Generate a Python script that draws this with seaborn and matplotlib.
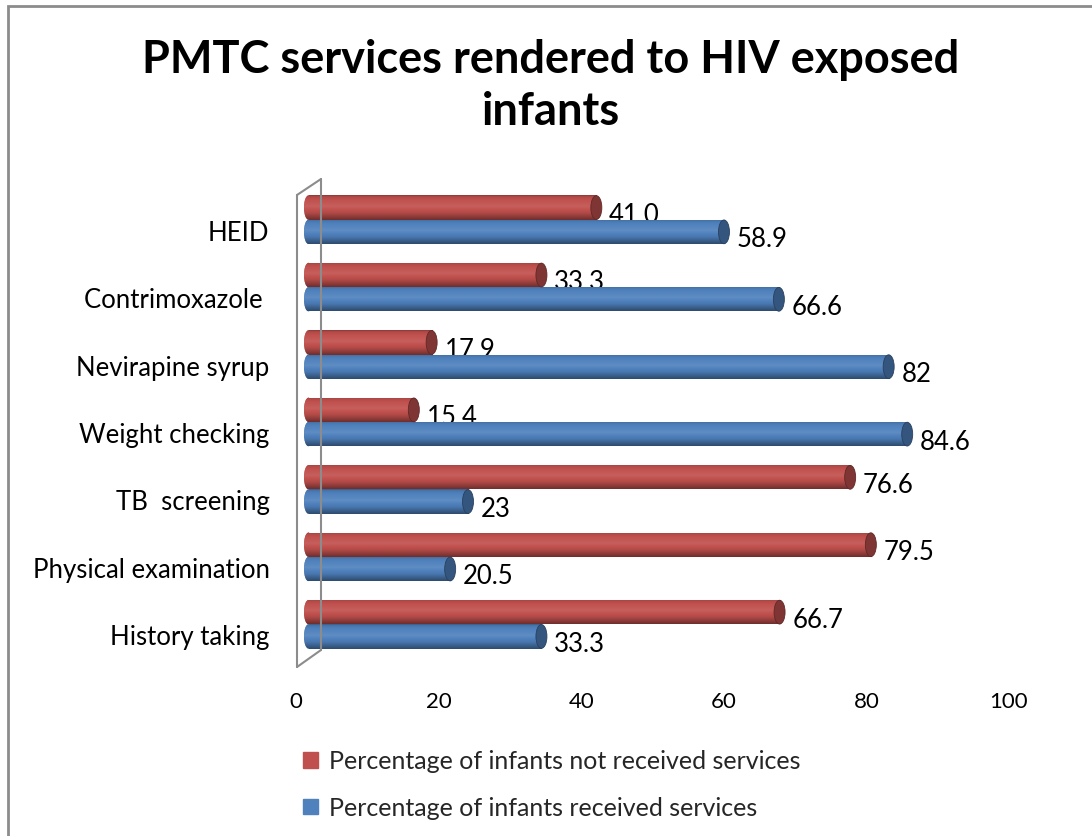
import numpy as np
import pandas as pd
import matplotlib
matplotlib.use("Agg")
import matplotlib.pyplot as plt
import seaborn as sns
import matplotlib.colors as mcolors
from matplotlib.transforms import ScaledTranslation
from matplotlib.patches import Ellipse, Rectangle, Patch
from matplotlib.lines import Line2D

# ---------------- data ----------------
categories = ["HEID", "Contrimoxazole ", "Nevirapine syrup", "Weight checking",
              "TB  screening", "Physical examination", "History taking"]
not_received = [41.0, 33.3, 17.9, 15.4, 76.6, 79.5, 66.7]
received = [58.9, 66.6, 82, 84.6, 23, 20.5, 33.3]
not_received_labels = ["41.0", "33.3", "17.9", "15.4", "76.6", "79.5", "66.7"]
received_labels = ["58.9", "66.6", "82", "84.6", "23", "20.5", "33.3"]
series_names = ["Percentage of infants not received services",
                "Percentage of infants received services"]
x_ticks = [0, 20, 40, 60, 80, 100]
title_lines = ["PMTC services rendered to HIV exposed", "infants"]

# ---------------- style ----------------
sns.set_theme(style="white")
plt.rcParams['font.family'] = ['Lato', 'DejaVu Sans']
RED = "#C0504D"
BLUE = "#4F81BD"
GRAY = "#8C8C8C"

W, H = 1092, 837
fig = plt.figure(figsize=(W / 100, H / 100), dpi=100)
fig.patch.set_facecolor("white")
ax = fig.add_axes([296 / W, 1 - 659 / H, (1009 - 296) / W, (659 - 187) / H])

df = pd.DataFrame({
    "category": categories * 2,
    "series": [series_names[0]] * len(categories) + [series_names[1]] * len(categories),
    "value": not_received + received,
})
palette = {series_names[0]: RED, series_names[1]: BLUE}
sns.barplot(data=df, y="category", x="value", hue="series", hue_order=series_names,
            order=categories, palette=palette, orient="h", width=0.72,
            saturation=1, errorbar=None, legend=False, ax=ax)

ax.set_xlim(0, 100)
ax.set_ylim(len(categories) - 0.5, -0.5)
ax.set_xticks(x_ticks)
ax.set_xticklabels([str(t) for t in x_ticks])
ax.set_xlabel("")
ax.set_ylabel("")
for s in ax.spines.values():
    s.set_visible(False)
ax.tick_params(axis="x", length=0, pad=24, labelsize=16, labelcolor="#000000")
ax.tick_params(axis="y", length=0, pad=19, labelsize=18.5, labelcolor="#000000")
ax.grid(False)

# shift y labels slightly down (3D look)
ylab_off = ScaledTranslation(0, -10 / 100, fig.dpi_scale_trans)
for lab in ax.get_yticklabels():
    lab.set_transform(lab.get_transform() + ylab_off)

# ---------------- cylinder shading ----------------
bar_off = ScaledTranslation(8 / 100, 0, fig.dpi_scale_trans)
bar_trans = ax.transData + bar_off
px_per_unit = ax.transData.transform((1, 0))[0] - ax.transData.transform((0, 0))[0]
cap_w = 11 / px_per_unit
lcap_w = 9 / px_per_unit


def shade(color, f):
    rgb = np.array(mcolors.to_rgb(color))
    if f >= 1:
        return np.clip(rgb + (1 - rgb) * (f - 1) * 1.0, 0, 1)
    return rgb * f


tk = [0.0, 0.06, 0.18, 0.45, 0.72, 0.9, 1.0]
fk = [0.72, 0.92, 1.0, 1.09, 0.92, 0.70, 0.58]
N = 64
ts = np.linspace(0, 1, N)
fs = np.interp(ts, tk, fk)

label_sets = [not_received_labels, received_labels]
for ci, cont in enumerate(ax.containers):
    base = RED if ci == 0 else BLUE
    col = np.array([shade(base, f) for f in fs]).reshape(N, 1, 3)
    grad = np.repeat(col, 2, axis=1)
    for pi, patch in enumerate(cont.patches):
        patch.set_transform(bar_trans)
        patch.set_zorder(2)
        patch.set_edgecolor("none")
        x0, y0 = patch.get_x(), patch.get_y()
        w, h = patch.get_width(), patch.get_height()
        # body starts a little right so the rounded left end begins at x0
        xb = x0 + lcap_w / 2
        patch.set_x(xb)
        patch.set_width(w - lcap_w / 2)
        im = ax.imshow(grad, extent=[xb, x0 + w, y0 + h, y0], aspect="auto",
                       interpolation="bilinear", zorder=2.1, transform=bar_trans)
        im.set_clip_path(patch)
        # rounded left end (same shading)
        lcap = Ellipse((xb, y0 + h / 2), lcap_w, h,
                       facecolor=base, edgecolor="none", zorder=2.05,
                       transform=bar_trans)
        ax.add_patch(lcap)
        im2 = ax.imshow(grad, extent=[x0, xb + 0.01, y0 + h, y0],
                        aspect="auto", interpolation="bilinear", zorder=2.06,
                        transform=bar_trans)
        im2.set_clip_path(lcap)
        cap = Ellipse((x0 + w, y0 + h / 2), cap_w, h * 0.98,
                      facecolor=shade(base, 0.66), edgecolor=shade(base, 0.5),
                      lw=0.6, zorder=2.2, transform=bar_trans)
        ax.add_patch(cap)
        ax.annotate(label_sets[ci][pi], xy=(x0 + w, y0 + h / 2),
                    xytext=(15, -5), textcoords="offset points",
                    ha="left", va="center", fontsize=18.5, color="#000000",
                    zorder=1)

ax.set_xlim(0, 100)
ax.set_ylim(len(categories) - 0.5, -0.5)

# ---------------- 3D wall outline ----------------
def fx(px):
    return px / W


def fy(py):
    return 1 - py / H


wall = [((297, 196), (297, 668)), ((297, 196), (321, 180)), ((321, 180), (321, 651)),
        ((321, 651), (297, 668))]
for (a, b) in wall:
    fig.add_artist(Line2D([fx(a[0]), fx(b[0])], [fy(a[1]), fy(b[1])],
                          transform=fig.transFigure, color=GRAY, lw=1.5, zorder=0.5))

# ---------------- title ----------------
fig.text(551 / W, 1 - 60 / H, title_lines[0], ha="center", va="center",
         fontsize=32.5, fontweight="bold", color="#000000")
fig.text(551 / W, 1 - 112 / H, title_lines[1], ha="center", va="center",
         fontsize=32.5, fontweight="bold", color="#000000")

# ---------------- legend ----------------
handles = [Patch(facecolor=RED, edgecolor=RED), Patch(facecolor=BLUE, edgecolor=BLUE)]
fig.legend(handles, series_names, loc="upper left", bbox_to_anchor=(280 / W, 1 - 728 / H),
           frameon=False, handlelength=0.6, handleheight=0.6, handletextpad=0.45,
           labelspacing=0.95, fontsize=18)

# ---------------- chart border ----------------
fig.add_artist(Rectangle((8 / W, -0.05), 1.2, 1 - 7 / H + 0.05, transform=fig.transFigure,
                         fill=False, edgecolor=GRAY, lw=2))

fig.savefig("out.png", dpi=100)
